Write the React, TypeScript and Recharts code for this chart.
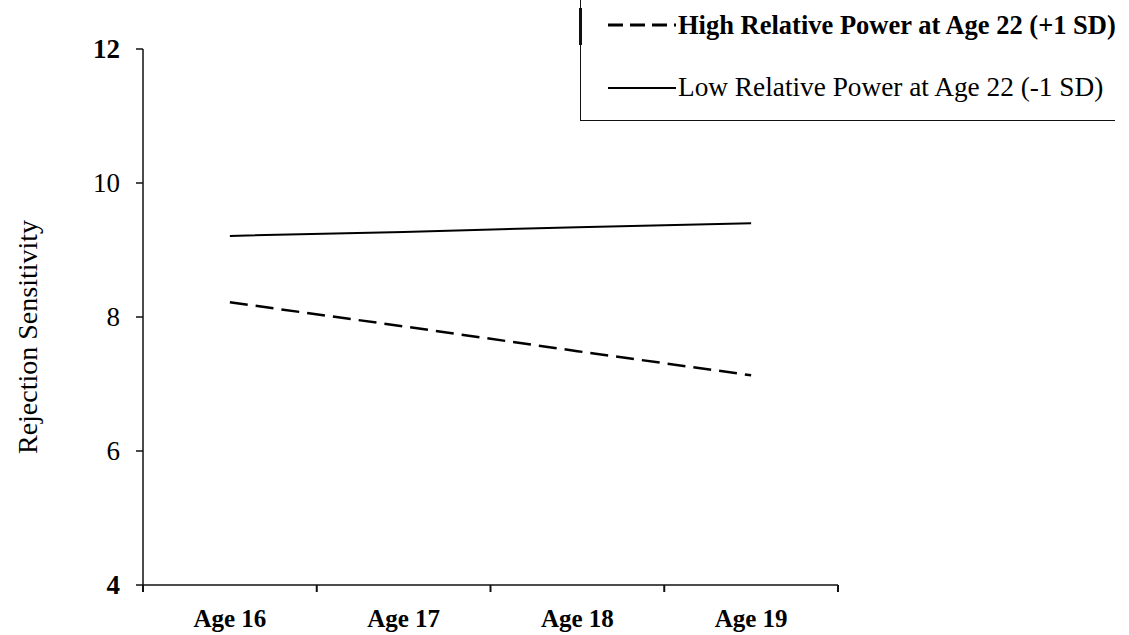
import { LineChart, Line, XAxis, YAxis, Legend } from "recharts";

const CATEGORIES = ["Age 16", "Age 17", "Age 18", "Age 19"];
const HIGH_POWER = [8.22, 7.86, 7.49, 7.13];
const LOW_POWER = [9.21, 9.27, 9.34, 9.4];
const Y_TICKS = [4, 6, 8, 10, 12];

const SERIES = [
  { key: "high", name: "High Relative Power at Age 22 (+1 SD)", dash: "18 8", legendDash: "15 7", width: 2.5, bold: true, fontSize: 26.5 },
  { key: "low", name: "Low Relative Power at Age 22 (-1 SD)", dash: undefined, legendDash: undefined, width: 2, bold: false, fontSize: 27.3 },
];

const FONT = '"Liberation Serif", "Times New Roman", Times, serif';
const INK = "#111";

const data = CATEGORIES.map((name, i) => ({
  x: i + 0.5,
  name,
  high: HIGH_POWER[i],
  low: LOW_POWER[i],
}));

// integer ticks carry the tick marks, half ticks carry the category labels
const xTicks = Array.from({ length: CATEGORIES.length * 2 + 1 }, (_, i) => i / 2);

function XTick({ x, y, payload }: any) {
  const v = payload.value;
  if (Number.isInteger(v)) {
    return <line x1={x} x2={x} y1={y} y2={y + 7} stroke={INK} strokeWidth={2} />;
  }
  return (
    <text x={x} y={y + 42} textAnchor="middle" fontFamily={FONT} fontWeight="bold" fontSize={25} fill="#000">
      {CATEGORIES[Math.floor(v)]}
    </text>
  );
}

function YTick({ x, y, payload }: any) {
  const v = payload.value;
  const bold = v === Y_TICKS[0] || v === Y_TICKS[Y_TICKS.length - 1];
  return (
    <text x={x} y={y} dy="0.35em" textAnchor="end" fontFamily={FONT} fontSize={27} fontWeight={bold ? "bold" : "normal"} fill="#000">
      {v}
    </text>
  );
}

function YLabel({ viewBox }: any) {
  const cx = viewBox.x + 27;
  const cy = viewBox.y + viewBox.height / 2 + 20;
  return (
    <text x={cx} y={cy} transform={`rotate(-90 ${cx} ${cy})`} textAnchor="middle" dominantBaseline="central" fontFamily={FONT} fontSize={28} fill="#000">
      Rejection Sensitivity
    </text>
  );
}

function PowerLegend() {
  return (
    <div
      style={{
        position: "relative",
        width: 535,
        height: 121,
        borderLeft: `1px solid ${INK}`,
        borderBottom: `1px solid ${INK}`,
        boxSizing: "border-box",
        fontFamily: FONT,
        color: "#000",
      }}
    >
      <div style={{ position: "absolute", left: -2, top: 8, width: 3, height: 37, background: INK }} />
      {SERIES.map((s, i) => (
        <div
          key={s.key}
          style={{ position: "absolute", left: 27, top: i === 0 ? 7 : 70, height: 36, display: "flex", alignItems: "center" }}
        >
          <svg width={70} height={10} style={{ display: "block" }}>
            <line x1={0} x2={68} y1={5} y2={5} stroke="#000" strokeWidth={s.bold ? 3 : 2} strokeDasharray={s.legendDash} />
          </svg>
          <span style={{ fontSize: s.fontSize, fontWeight: s.bold ? "bold" : "normal", whiteSpace: "nowrap", lineHeight: 1 }}>
            {s.name}
          </span>
        </div>
      ))}
    </div>
  );
}

export default function App() {
  return (
    <div style={{ position: "absolute", left: 0, top: 0, width: 1129, height: 635, background: "#fff" }}>
      <LineChart width={1129} height={635} data={data} margin={{ top: 49, right: 291, bottom: 0, left: 0 }}>
        <XAxis
          dataKey="x"
          type="number"
          domain={[0, CATEGORIES.length]}
          ticks={xTicks}
          interval={0}
          height={50}
          tickSize={0}
          tickMargin={0}
          tickLine={false}
          tick={<XTick />}
          axisLine={{ stroke: INK, strokeWidth: 1.5 }}
        />
        <YAxis
          type="number"
          domain={[4, 12]}
          ticks={Y_TICKS}
          interval={0}
          width={143}
          tickSize={7}
          tickMargin={16}
          tick={<YTick />}
          tickLine={{ stroke: INK, strokeWidth: 1.5 }}
          axisLine={{ stroke: INK, strokeWidth: 1.5 }}
          label={<YLabel />}
        />
        <Legend
          layout="horizontal"
          align="center"
          verticalAlign="middle"
          content={<PowerLegend />}
          wrapperStyle={{ top: 0, left: 580, width: 535, height: 121 }}
        />
        {SERIES.map((s) => (
          <Line
            key={s.key}
            type="linear"
            dataKey={s.key}
            name={s.name}
            stroke="#000"
            strokeWidth={s.width}
            strokeDasharray={s.dash}
            dot={false}
            activeDot={false}
            isAnimationActive={false}
          />
        ))}
      </LineChart>
    </div>
  );
}
